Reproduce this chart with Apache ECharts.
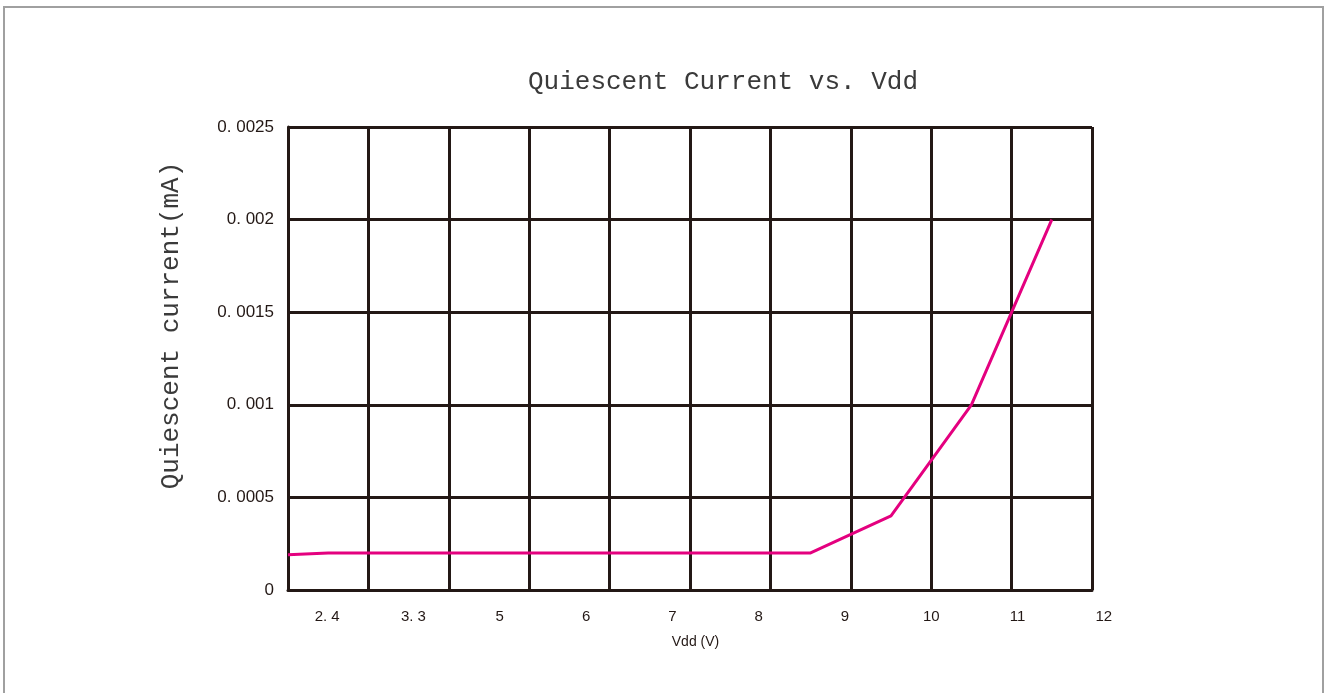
<!DOCTYPE html>
<html>
<head>
<meta charset="utf-8">
<script src="https://cdn.jsdelivr.net/npm/echarts@6/dist/echarts.min.js"></script>
<style>
  html, body { margin: 0; padding: 0; background: #fff; }
  #chart { width: 1330px; height: 693px; }
</style>
</head>
<body>
<div id="chart"></div>
<script>
// tick labels printed under the plot
var vddLabels = ['2.4', '3.3', '5', '6', '7', '8', '9', '10', '11', '12'];
// line points: x in grid cells from the left edge, y in mA
var pointX = [0, 0.5, 1.5, 2.5, 3.5, 4.5, 5.5, 6.5, 7.5, 8.5, 9.5];
var currentMA = [0.00019, 0.0002, 0.0002, 0.0002, 0.0002, 0.0002, 0.0002, 0.0002, 0.0004, 0.001, 0.002];

var tickFont = '"Liberation Sans Narrow", "Liberation Sans", sans-serif';
var gridColor = '#231815';

var chart = echarts.init(document.getElementById('chart'));
var option = {
    backgroundColor: '#fff',
    animation: false,
    title: {
        text: 'Quiescent Current vs. Vdd',
        left: 718,
        top: 64,
        textAlign: 'center',
        textStyle: {
            fontFamily: '"Liberation Mono", monospace',
            fontWeight: 'normal',
            fontSize: 26,
            color: '#3a3a3a'
        }
    },
    graphic: [{
        type: 'rect',
        shape: { x: 4, y: 7, width: 1319, height: 700 },
        style: { fill: null, stroke: '#a0a0a0', lineWidth: 2 },
        silent: true
    }],
    grid: [
        { left: 288, right: 238, top: 127, bottom: 103 },
        { left: 284, right: 183, top: 127, bottom: 103 }
    ],
    xAxis: [{
        gridIndex: 0,
        type: 'value',
        min: 0,
        max: 10,
        interval: 1,
        axisLine: { show: true, onZero: false, lineStyle: { color: gridColor, width: 3 } },
        axisTick: { show: false },
        axisLabel: { show: false },
        splitLine: { show: true, lineStyle: { color: gridColor, width: 3 } }
    }, {
        gridIndex: 1,
        type: 'category',
        data: vddLabels,
        boundaryGap: true,
        axisLine: { show: false },
        axisTick: { show: false },
        splitLine: { show: false },
        axisLabel: {
            margin: 19,
            fontFamily: tickFont,
            fontSize: 15,
            color: '#231815',
            formatter: function (v) { return v.replace('.', '. '); }
        },
        name: 'Vdd (V)',
        nameLocation: 'middle',
        nameGap: 45,
        nameTextStyle: { fontFamily: tickFont, fontSize: 14, color: '#231815', padding: [0, 0, 0, -40] }
    }],
    yAxis: [{
        gridIndex: 0,
        type: 'value',
        min: 0,
        max: 0.0025,
        interval: 0.0005,
        axisLine: { show: true, lineStyle: { color: gridColor, width: 3 } },
        axisTick: { show: false },
        splitLine: { show: true, lineStyle: { color: gridColor, width: 3 } },
        axisLabel: {
            margin: 14,
            fontFamily: tickFont,
            fontSize: 17,
            color: '#231815',
            formatter: function (v) {
                if (v === 0) return '0';
                return String(+v.toFixed(4)).replace('.', '. ');
            }
        },
        name: 'Quiescent current(mA)',
        nameLocation: 'middle',
        nameGap: 104,
        nameTextStyle: {
            fontFamily: '"Liberation Mono", monospace',
            fontSize: 26,
            color: '#3a3a3a',
            padding: [0, 0, 0, 66]
        }
    }, {
        gridIndex: 1,
        type: 'value',
        show: false
    }],
    series: [{
        type: 'line',
        xAxisIndex: 0,
        yAxisIndex: 0,
        data: pointX.map(function (x, i) { return [x, currentMA[i]]; }),
        showSymbol: false,
        symbol: 'none',
        lineStyle: { color: '#e4007f', width: 3 },
        z: 5
    }]
};
chart.setOption(option);
</script>
</body>
</html>
